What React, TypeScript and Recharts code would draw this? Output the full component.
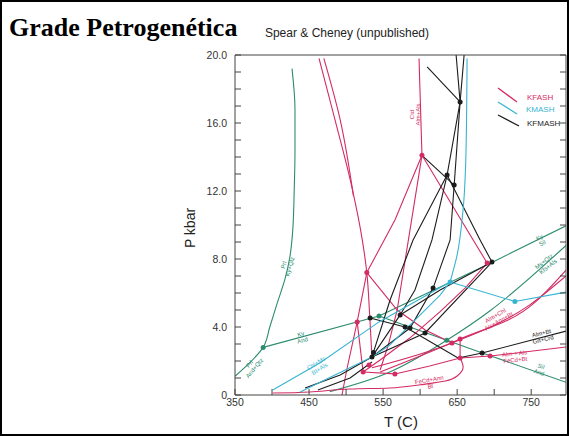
import React from "react";
import { ComposedChart, Line, Scatter, XAxis, YAxis } from "recharts";

// petrogenetic grid, Spear & Cheney (unpublished)
// every curve is a list of [T (C), P (kbar)] points

const RED = "#d42b62";
const CYAN = "#36b4d2";
const GREEN = "#2c8c70";
const BLACK = "#1c1c1c";
const AXIS = "#444";

const X_TICKS = [350, 400, 450, 500, 550, 600, 650, 700, 750];
const X_LABELS = [350, 450, 550, 650, 750];
const Y_TICKS = [0, 1, 2, 3, 4, 5, 6, 7, 8, 9, 10, 11, 12, 13, 14, 15, 16, 17, 18, 19, 20];
const Y_LABELS = [0, 4, 8, 12, 16, 20];

// Al2SiO5 + pyrophyllite + muscovite (green)
const PRL_KY = [[427, 19.2], [431, 16.8], [431, 14.4], [430, 12.1], [428, 9.7], [424, 8.1], [418, 6.9], [407, 5.4], [397, 4.0], [388, 2.8], [370, 1.9], [350, 1.1]];
const KY_AND = [[388, 2.8], [544.5, 4.65]];
const KY_SIL = [[544.5, 4.65], [697, 7.8], [797, 9.95]];
const AND_SIL = [[544.5, 4.65], [636, 3.22], [684, 2.47], [797, 0.75]];
const MS_QTZ = [[478, 0.2], [559, 1.35], [636, 3.22], [694, 4.94], [797, 8.8]];

// KFASH (red)
const KF_LEFT = [[463.5, 19.8], [485, 16.2], [508, 12.2], [522, 9.1], [528, 7.2], [532, 4.6], [535, 2.2]];
const KF_LEFT2 = [[470, 19.8], [492, 16.2], [510, 11.7]];
const KF_CTD = [[598.5, 19.8], [602.5, 14.1]];
const KF_CTD_SW = [[602.5, 14.1], [566, 10.3], [528, 7.2]];
const KF_CTD_SE = [[602.5, 14.1], [647, 10.9], [690.5, 7.76]];
const KF_STEEP = [[602.5, 14.1], [569, 5.0], [557, 2.94], [546, 1.47]];
const KF_A = [[528, 7.2], [515, 4.3], [501, 1.5], [494.5, 0]];
const KF_B = [[515, 4.3], [523, 1.35]];
const KF_C = [[528, 7.2], [569, 5.0], [607, 3.82], [643, 3.06]];
const KF_D = [[690.5, 7.76], [661, 6.3], [627, 4.9], [586, 3.35], [546, 2.06], [523, 1.35]];
const KF_ALM_CHL1 = [[535, 1.6], [643, 3.06], [748, 5.3], [797, 7.0]];
const KF_ALM_CHL2 = [[546, 1.35], [654, 3.29], [755, 5.45], [797, 7.35]];
const KF_VERT = [[654, 3.29], [654, 2.18]];
const KF_LOOP = [[401, 0.12], [451, 0.18], [505, 0.35], [559, 0.41], [600, 0.6], [634, 0.82], [650, 1.12], [658, 1.6], [654, 2.18]];
const KF_ALM_ALS = [[523, 1.35], [566, 1.24], [613, 1.71], [654, 2.18], [694.5, 2.29], [797, 2.82]];

// KFMASH (black)
const KFM_TOP = [[609.5, 19.3], [654, 17.24]];
const KFM_A = [[648.6, 20], [654, 17.24], [646, 12.35], [640.5, 9.12], [617.5, 6.29], [586.4, 3.94], [535, 2.24]];
const KFM_B = [[659.4, 20], [654, 17.24], [636.4, 12.94], [616, 9.12], [593, 6.18], [573, 4.71], [535, 2.24]];
const KFM_C = [[636.4, 12.94], [590.5, 9.12], [559.4, 5.59], [535, 2.24]];
const KFM_D = [[636.4, 12.94], [681, 9.12], [697, 7.82]];
const KFM_E = [[602.5, 14.1], [646, 12.35]];
const KFM_F = [[697, 7.82], [606.7, 3.65], [535, 2.24]];
const KFM_G = [[697, 7.82], [627, 6.18], [573, 4.71]];
const KFM_H = [[532.4, 4.53], [579.7, 4.0], [651.3, 2.18]];
const KFM_ALM_BT = [[651.3, 2.18], [683.7, 2.47], [797, 3.76]];
const KFM_T1 = [[444.6, 0.41], [492, 1.18], [535, 2.24]];
const KFM_T2 = [[462, 0.29], [505.4, 1.0], [535, 1.94]];

// KMASH (cyan)
const KM_VERT = [[663.4, 19.8], [662, 14.4], [658, 10.9], [650, 8.24], [640.5, 6.65]];
const KM_CHL_MS = [[401, 0.3], [465, 1.9], [544.5, 4.3], [640.5, 6.65]];
const KM_RIGHT = [[640.5, 6.65], [728, 5.5], [797, 6.05]];
const KM_DOWN = [[640.5, 6.65], [627, 5.88], [593, 4.41], [559, 2.94], [535, 2.24]];
const KM_LOW = [[438, 0.18], [485, 1.18], [535, 2.24]];

// invariant points
const BLACK_PTS = [[654, 17.24], [636.4, 12.94], [646, 12.35], [697, 7.82], [617.5, 6.29], [573, 4.71], [579.7, 4.0], [586.4, 3.94], [606.7, 3.65], [683.7, 2.47], [535, 2.24], [537, 2.5], [532.4, 4.53]];
const RED_PTS = [[602.5, 14.1], [528, 7.2], [515, 4.3], [690.5, 7.76], [523, 1.35], [566, 1.24], [643, 3.06], [654, 3.29], [654, 2.18], [694.5, 2.29], [531, 1.76]];
const GREEN_PTS = [[388, 2.8], [544.5, 4.65], [636, 3.22]];
const CYAN_PTS = [[640.5, 6.65], [728, 5.5]];

// reaction labels
const NOTES = [
  { t: 763, p: 9.1, lines: ["Ky", "Sil"], angle: -27, set: "g" },
  { t: 770, p: 7.7, lines: ["Ms+Qtz", "Kfs+Als"], angle: -38, set: "g" },
  { t: 762, p: 1.5, lines: ["Sil", "And"], angle: 18, set: "g" },
  { t: 440, p: 3.4, lines: ["Ky", "And"], angle: -15, set: "g" },
  { t: 420, p: 7.6, lines: ["Prl", "Ky+Qtz"], angle: -75, set: "g" },
  { t: 373, p: 1.7, lines: ["Prl", "And+Qtz"], angle: -50, set: "g" },
  { t: 593, p: 16.5, lines: ["Ctd", "Alm+Als"], angle: -90, set: "r" },
  { t: 704, p: 4.5, lines: ["Alm+Chl", "Als+Ann+Bt"], angle: -30, set: "r" },
  { t: 728, p: 2.25, lines: ["Alm + Als", "FeCd+Bt"], angle: -6, set: "r" },
  { t: 613, p: 0.7, lines: ["FeCd+Ann", "Bt"], angle: -10, set: "r" },
  { t: 765, p: 3.45, lines: ["Alm+Bt", "Grt+Crd"], angle: -14, set: "k" },
  { t: 462, p: 1.7, lines: ["Chl+Ms", "Bt+Als"], angle: -32, set: "c" },
];

const SET_COLOR: Record<string, string> = { g: GREEN, r: RED, k: BLACK, c: CYAN };

const toPts = (arr: number[][]) => arr.map(([t, p]) => ({ t, p }));

type Curve = "linear" | "natural" | "monotoneX" | "monotoneY";

const SERIES: Array<{ name: string; data: number[][]; color: string; curve: Curve }> = [
  { name: "prl-ky", data: PRL_KY, color: GREEN, curve: "monotoneY" },
  { name: "ky-and", data: KY_AND, color: GREEN, curve: "linear" },
  { name: "ky-sil", data: KY_SIL, color: GREEN, curve: "linear" },
  { name: "and-sil", data: AND_SIL, color: GREEN, curve: "linear" },
  { name: "ms-qtz", data: MS_QTZ, color: GREEN, curve: "monotoneX" },
  { name: "kf-left", data: KF_LEFT, color: RED, curve: "monotoneY" },
  { name: "kf-left2", data: KF_LEFT2, color: RED, curve: "monotoneY" },
  { name: "kf-ctd", data: KF_CTD, color: RED, curve: "linear" },
  { name: "kf-ctd-sw", data: KF_CTD_SW, color: RED, curve: "linear" },
  { name: "kf-ctd-se", data: KF_CTD_SE, color: RED, curve: "linear" },
  { name: "kf-steep", data: KF_STEEP, color: RED, curve: "linear" },
  { name: "kf-a", data: KF_A, color: RED, curve: "linear" },
  { name: "kf-b", data: KF_B, color: RED, curve: "linear" },
  { name: "kf-c", data: KF_C, color: RED, curve: "linear" },
  { name: "kf-d", data: KF_D, color: RED, curve: "linear" },
  { name: "kf-alm-chl1", data: KF_ALM_CHL1, color: RED, curve: "monotoneX" },
  { name: "kf-alm-chl2", data: KF_ALM_CHL2, color: RED, curve: "monotoneX" },
  { name: "kf-vert", data: KF_VERT, color: RED, curve: "linear" },
  { name: "kf-loop", data: KF_LOOP, color: RED, curve: "natural" },
  { name: "kf-alm-als", data: KF_ALM_ALS, color: RED, curve: "linear" },
  { name: "kfm-top", data: KFM_TOP, color: BLACK, curve: "linear" },
  { name: "kfm-a", data: KFM_A, color: BLACK, curve: "linear" },
  { name: "kfm-b", data: KFM_B, color: BLACK, curve: "linear" },
  { name: "kfm-c", data: KFM_C, color: BLACK, curve: "linear" },
  { name: "kfm-d", data: KFM_D, color: BLACK, curve: "linear" },
  { name: "kfm-e", data: KFM_E, color: BLACK, curve: "linear" },
  { name: "kfm-f", data: KFM_F, color: BLACK, curve: "linear" },
  { name: "kfm-g", data: KFM_G, color: BLACK, curve: "linear" },
  { name: "kfm-h", data: KFM_H, color: BLACK, curve: "linear" },
  { name: "kfm-alm-bt", data: KFM_ALM_BT, color: BLACK, curve: "linear" },
  { name: "kfm-t1", data: KFM_T1, color: BLACK, curve: "linear" },
  { name: "kfm-t2", data: KFM_T2, color: BLACK, curve: "linear" },
  { name: "km-vert", data: KM_VERT, color: CYAN, curve: "monotoneY" },
  { name: "km-chl-ms", data: KM_CHL_MS, color: CYAN, curve: "linear" },
  { name: "km-right", data: KM_RIGHT, color: CYAN, curve: "linear" },
  { name: "km-down", data: KM_DOWN, color: CYAN, curve: "linear" },
  { name: "km-low", data: KM_LOW, color: CYAN, curve: "linear" },
];

const DOTS = [
  { name: "dots-k", data: BLACK_PTS, color: BLACK },
  { name: "dots-r", data: RED_PTS, color: RED },
  { name: "dots-g", data: GREEN_PTS, color: GREEN },
  { name: "dots-c", data: CYAN_PTS, color: CYAN },
];

const SANS = "'Liberation Sans', Arial, Helvetica, sans-serif";

const NoteShape = (props: any) => {
  const { cx, cy, payload } = props;
  if (cx == null || cy == null) return null;
  const n = payload.lines.length;
  return (
    <text
      transform={`translate(${cx},${cy}) rotate(${payload.angle})`}
      textAnchor="middle"
      fontSize={6}
      fontFamily={SANS}
      fill={SET_COLOR[payload.set]}
    >
      {payload.lines.map((s: string, i: number) => (
        <tspan key={i} x={0} y={(i - (n - 1) / 2) * 6.5 + 2}>
          {s}
        </tspan>
      ))}
    </text>
  );
};

const dotShape = (color: string) => (props: any) =>
  props.cx == null ? null : <circle cx={props.cx} cy={props.cy} r={2.5} fill={color} />;

export default function App() {
  return (
    <div style={{ position: "absolute", left: 0, top: 0, width: 569, height: 436, background: "#fff", overflow: "hidden" }}>
      <div style={{ position: "absolute", left: 0, top: 0 }}>
        <ComposedChart width={569} height={436} margin={{ top: 54, right: 2, bottom: 11, left: 0 }}>
          <XAxis
            type="number"
            dataKey="t"
            domain={[350, 797]}
            allowDataOverflow
            ticks={X_TICKS}
            interval={0}
            tickFormatter={(v: number) => (X_LABELS.includes(v) ? String(v) : "")}
            tickSize={-6}
            tickMargin={10}
            height={30}
            axisLine={{ stroke: AXIS }}
            tickLine={{ stroke: AXIS }}
            tick={{ fontSize: 10.5, fill: "#333", fontFamily: SANS }}
          />
          <XAxis
            xAxisId="top"
            orientation="top"
            type="number"
            domain={[350, 797]}
            allowDataOverflow
            ticks={X_TICKS}
            interval={0}
            tickFormatter={() => ""}
            tickSize={-6}
            height={1}
            axisLine={{ stroke: AXIS }}
            tickLine={{ stroke: AXIS }}
          />
          <YAxis
            type="number"
            dataKey="p"
            domain={[0, 20]}
            allowDataOverflow
            ticks={Y_TICKS}
            interval={0}
            tickFormatter={(v: number) => (v === 0 ? "0" : Y_LABELS.includes(v) ? v.toFixed(1) : "")}
            tickSize={-6}
            tickMargin={14}
            width={235}
            axisLine={{ stroke: AXIS }}
            tickLine={{ stroke: AXIS }}
            tick={{ fontSize: 10.5, fill: "#333", fontFamily: SANS }}
          />
          <YAxis
            yAxisId="right"
            orientation="right"
            type="number"
            domain={[0, 20]}
            allowDataOverflow
            ticks={Y_TICKS}
            interval={0}
            tickFormatter={() => ""}
            tickSize={-6}
            width={1}
            axisLine={{ stroke: AXIS }}
            tickLine={{ stroke: AXIS }}
          />
          {SERIES.map((s) => (
            <Line
              key={s.name}
              data={toPts(s.data)}
              dataKey="p"
              type={s.curve}
              stroke={s.color}
              strokeWidth={1.1}
              dot={false}
              activeDot={false}
              isAnimationActive={false}
            />
          ))}
          {DOTS.map((d) => (
            <Scatter key={d.name} data={toPts(d.data)} dataKey="p" shape={dotShape(d.color)} isAnimationActive={false} />
          ))}
          <Scatter data={NOTES} dataKey="p" shape={NoteShape} isAnimationActive={false} />
        </ComposedChart>
      </div>

      <div style={{ position: "absolute", left: 9, top: 15, fontFamily: "'Liberation Serif', 'Times New Roman', serif", fontWeight: "bold", fontSize: 26, lineHeight: "26px", color: "#000", whiteSpace: "nowrap" }}>
        Grade Petrogenética
      </div>
      <div style={{ position: "absolute", left: 247, top: 27, width: 200, textAlign: "center", fontFamily: SANS, fontSize: 12, lineHeight: "12px", color: "#222", whiteSpace: "nowrap" }}>
        Spear &amp; Cheney (unpublished)
      </div>
      <div style={{ position: "absolute", left: 150, top: 221, width: 80, textAlign: "center", transform: "rotate(-90deg)", fontFamily: SANS, fontSize: 14, lineHeight: "14px", color: "#222", whiteSpace: "nowrap" }}>
        P kbar
      </div>
      <div style={{ position: "absolute", left: 351, top: 414, width: 100, textAlign: "center", fontFamily: SANS, fontSize: 15, lineHeight: "15px", color: "#222", whiteSpace: "nowrap" }}>
        T (C)
      </div>

      <svg style={{ position: "absolute", left: 0, top: 0 }} width={569} height={436}>
        <line x1={498} y1={88} x2={517} y2={102} stroke={RED} strokeWidth={1.3} />
        <text x={527} y={100} fontSize={8} fontFamily={SANS} fill={RED}>KFASH</text>
        <line x1={498} y1={102} x2={517} y2={114} stroke={CYAN} strokeWidth={1.3} />
        <text x={526} y={111.5} fontSize={8} fontFamily={SANS} fill={CYAN}>KMASH</text>
        <line x1={498} y1={115} x2={519} y2={126} stroke={BLACK} strokeWidth={1.3} />
        <text x={527} y={125.5} fontSize={8} fontFamily={SANS} fill={BLACK}>KFMASH</text>
      </svg>

      <div style={{ position: "absolute", left: 0, top: 0, width: 569, height: 436, boxSizing: "border-box", border: "2px solid #000", pointerEvents: "none" }} />
    </div>
  );
}
